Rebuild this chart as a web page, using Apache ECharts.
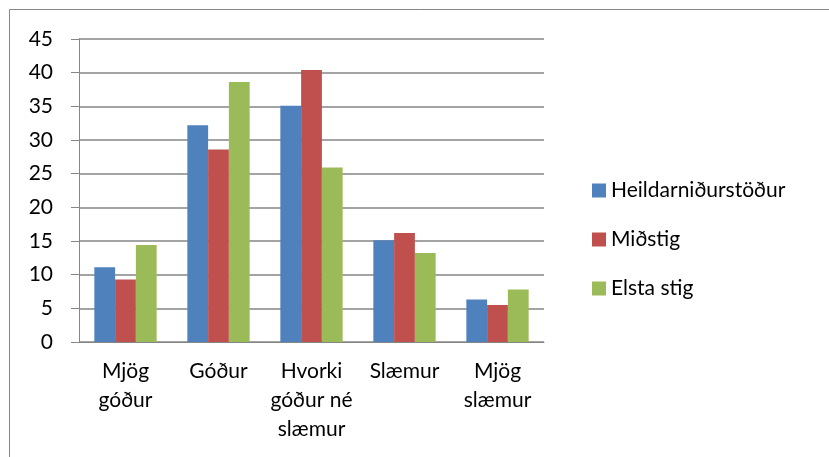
<!DOCTYPE html>
<html>
<head>
<meta charset="utf-8">
<script src="https://cdn.jsdelivr.net/npm/echarts@6/dist/echarts.min.js"></script>
<style>
  html, body { margin: 0; padding: 0; background: #fff; }
</style>
</head>
<body>
<!-- chart container -->
<div id="main" style="width: 829px;height:457px;"></div>

<script type="text/javascript">

    // categories and series values
    var categories = ['Mjög\ngóður', 'Góður', 'Hvorki\ngóður né\nslæmur', 'Slæmur', 'Mjög\nslæmur'];
    var heildar = [11.1, 32.2, 35.1, 15.1, 6.3];
    var midstig = [9.3, 28.6, 40.4, 16.2, 5.5];
    var elsta = [14.4, 38.6, 25.9, 13.2, 7.8];
    var seriesNames = ['Heildarniðurstöður', 'Miðstig', 'Elsta stig'];
    var colors = ['#4f81bd', '#c0504d', '#9bbb59'];

    var myChart = echarts.init(document.getElementById('main'));

    var font = 'Lato';
    var gray = '#868686';

    var option = {
        animation: false,
        color: colors,
        textStyle: { fontFamily: font },
        // outer frame (only top and left edges are visible)
        graphic: [{
            type: 'rect',
            shape: { x: 9.5, y: 9.5, width: 900, height: 500 },
            style: { fill: 'none', stroke: gray, lineWidth: 1 }
        }],
        legend: {
            orient: 'vertical',
            left: 587,
            top: 175,
            itemWidth: 14,
            itemHeight: 14,
            itemGap: 28,
            icon: 'rect',
            textStyle: { fontSize: 21, color: '#000', fontFamily: font, lineHeight: 20 },
            data: seriesNames
        },
        grid: { left: 79, right: 285, top: 39, bottom: 115 },
        xAxis: {
            type: 'category',
            data: categories,
            axisLine: { lineStyle: { color: gray } },
            axisTick: { length: 7, lineStyle: { color: gray } },
            axisLabel: { fontSize: 21, color: '#000', lineHeight: 29, margin: 15, interval: 0 }
        },
        yAxis: {
            type: 'value',
            min: 0,
            max: 45,
            interval: 5,
            axisLine: { show: true, lineStyle: { color: gray } },
            axisTick: { show: true, length: 8, lineStyle: { color: gray } },
            splitLine: { lineStyle: { color: gray, width: 1.5 } },
            axisLabel: { fontSize: 21, color: '#000', margin: 26 }
        },
        series: [
            { name: seriesNames[0], type: 'bar', data: heildar, barGap: '0%', barCategoryGap: '33%' },
            { name: seriesNames[1], type: 'bar', data: midstig, barGap: '0%', barCategoryGap: '33%' },
            { name: seriesNames[2], type: 'bar', data: elsta, barGap: '0%', barCategoryGap: '33%' }
        ]
    };

    myChart.setOption(option);

</script>
</body>
</html>
